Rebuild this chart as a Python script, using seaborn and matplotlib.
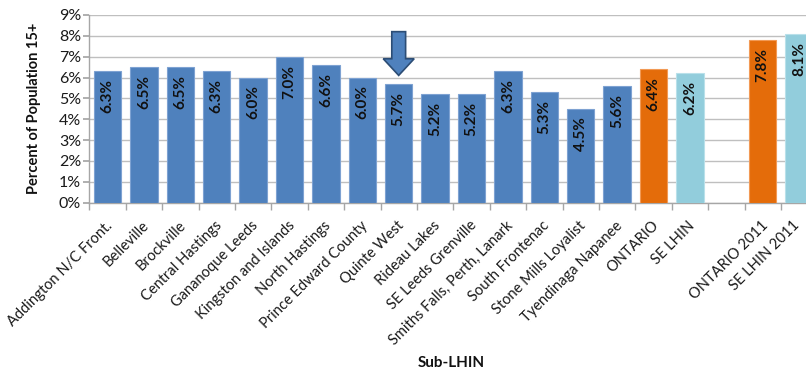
import matplotlib
matplotlib.use("Agg")
import matplotlib.pyplot as plt
import matplotlib.transforms as mtransforms
import seaborn as sns
import pandas as pd
import numpy as np
from matplotlib.patches import FancyArrow
from matplotlib.ticker import FuncFormatter, MultipleLocator

categories = ["Addington N/C Front.", "Belleville", "Brockville", "Central Hastings",
              "Gananoque Leeds", "Kingston and Islands", "North Hastings",
              "Prince Edward County", "Quinte West", "Rideau Lakes", "SE Leeds Grenville",
              "Smiths Falls, Perth, Lanark", "South Frontenac", "Stone Mills Loyalist",
              "Tyendinaga Napanee", "ONTARIO", "SE LHIN", " ", "ONTARIO 2011", "SE LHIN 2011"]
values = [6.3, 6.5, 6.5, 6.3, 6.0, 7.0, 6.6, 6.0, 5.7, 5.2, 5.2, 6.3, 5.3, 4.5, 5.6,
          6.4, 6.2, np.nan, 7.8, 8.1]
groups = ["sub"] * 15 + ["ont", "se", "gap", "ont", "se"]
group_colors = {"sub": "#4F81BD", "ont": "#E46C0A", "se": "#92CDDC", "gap": "#FFFFFF"}
edge_colors = {"sub": "#7EA2D2", "ont": "#F29A55", "se": "#B9E0EA", "gap": "#FFFFFF"}

sns.set_theme(style="white")
plt.rcParams["font.family"] = ["Lato", "DejaVu Sans"]

df = pd.DataFrame({"cat": categories, "val": values, "grp": groups})

fig = plt.figure(figsize=(8.06, 3.70), dpi=100)
ax = fig.add_axes([89.3 / 806, 167.5 / 370, 728 / 806, 187.5 / 370])

palette = {c: group_colors[g] for c, g in zip(categories, groups)}
sns.barplot(data=df.dropna(), x="cat", y="val", hue="cat", order=categories,
            hue_order=categories, palette=palette, legend=False, width=0.75,
            ax=ax, saturation=1)

for patch, g in zip(ax.patches, [g for g, v in zip(groups, values) if not np.isnan(v)]):
    patch.set_edgecolor(edge_colors[g])
    patch.set_linewidth(0.8)
    patch.set_zorder(3)

ax.set_xlim(-0.5, len(categories) - 0.5)
ax.set_ylim(0, 9)
ax.yaxis.set_major_locator(MultipleLocator(1))
ax.yaxis.set_major_formatter(FuncFormatter(lambda v, p: f"{int(round(v))}%"))
ax.grid(axis="y", color="#BFBFBF", linewidth=1.0, zorder=0)
ax.set_axisbelow(True)

for s in ["top", "right"]:
    ax.spines[s].set_visible(False)
for s in ["left", "bottom"]:
    ax.spines[s].set_color("#A6A6A6")
    ax.spines[s].set_linewidth(1.0)

# x ticks: boundaries as minor ticks, labels on majors
ax.set_xticks(range(len(categories)))
ax.set_xticklabels([c if c.strip() else "" for c in categories], rotation=45,
                   ha="right", va="center", rotation_mode="anchor", fontsize=10.5,
                   color="#1A1A1A")
ax.tick_params(axis="x", which="major", length=0, pad=15)
ax.set_xticks(np.arange(-0.5, len(categories), 1.0), minor=True)
ax.tick_params(axis="x", which="minor", length=5, color="#A6A6A6", bottom=True)
ax.tick_params(axis="y", length=4, color="#A6A6A6", left=True, labelsize=11.5,
               labelcolor="#1A1A1A", pad=2)

for i, v in enumerate(values):
    if np.isnan(v):
        continue
    ax.text(i, v - 0.38, f"{v:.1f}%", rotation=90, ha="center", va="top",
            fontsize=11, fontweight="bold", color="#111111", zorder=5)

ax.set_ylabel("Percent of Population 15+", fontsize=10.5, fontweight="bold", color="#111111")
ax.yaxis.set_label_coords(-0.067, 0.5)
ax.set_xlabel("Sub-LHIN", fontsize=11, fontweight="bold", color="#111111")
ax.xaxis.set_label_coords(0.497, -0.82)

# arrow pointing at Quinte West
qi = categories.index("Quinte West")
arrow = FancyArrow(qi, 8.2, 0, -2.1, width=0.38, head_width=0.85, head_length=0.8,
                   length_includes_head=True, facecolor="#4F81BD",
                   edgecolor="#2C4D75", linewidth=1.2, zorder=6)
ax.add_patch(arrow)

# shift rotated tick labels slightly right, as in the reference
# (the last one stays put so it is not clipped by the figure edge)
offset = mtransforms.ScaledTranslation(0.03, 0, fig.dpi_scale_trans)
labels = ax.get_xticklabels()
for lab in labels[:-1]:
    lab.set_transform(lab.get_transform() + offset)
last_offset = mtransforms.ScaledTranslation(-0.02, 0, fig.dpi_scale_trans)
labels[-1].set_transform(labels[-1].get_transform() + last_offset)

fig.savefig("out.png", dpi=100)
